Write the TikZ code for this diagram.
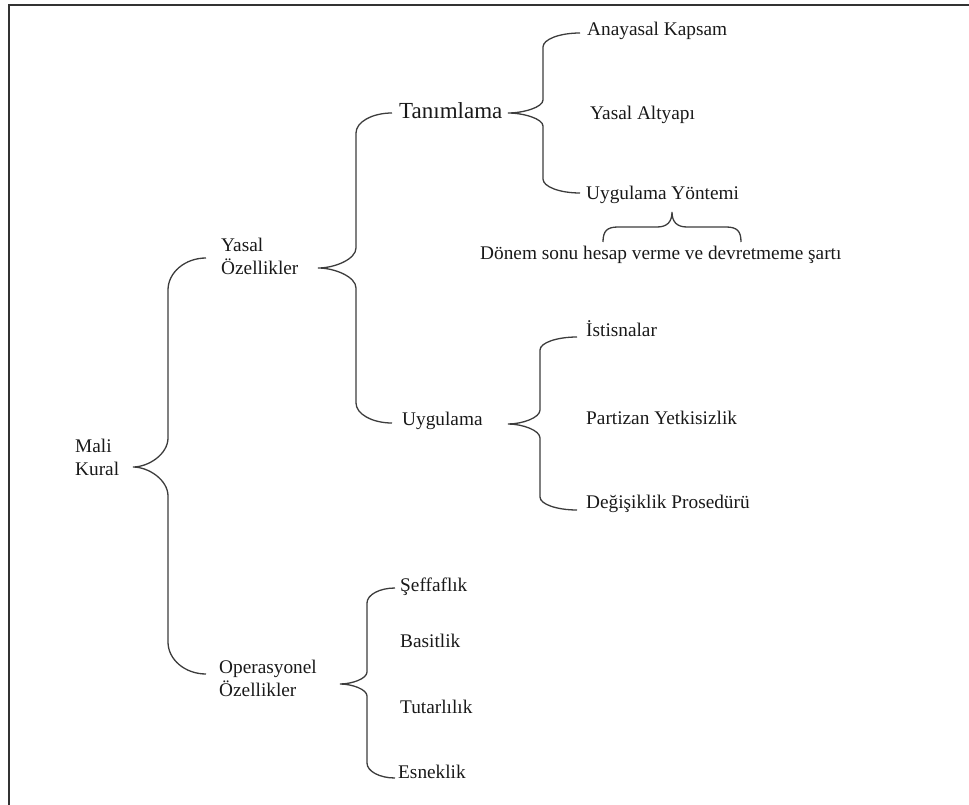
\documentclass[tikz,border=0pt]{standalone}
\usepackage{fontspec}
\setmainfont{Liberation Serif}
\definecolor{bcol}{RGB}{60,60,60}
\definecolor{fcol}{RGB}{50,50,50}
\definecolor{tcol}{RGB}{25,25,25}
\newcommand{\cbrace}[8]{%
\draw[bline] (#4,#5) .. controls ({#3+0.45*(#4-#3)},#5) and (#3,{#5+0.45*#7}) .. (#3,{#5+#7})
 -- (#3,{#2-#8}) .. controls (#3,{#2-0.45*#8}) and ({#1+0.45*(#3-#1)},#2) .. (#1,#2)
 .. controls ({#1+0.45*(#3-#1)},#2) and (#3,{#2+0.45*#8}) .. (#3,{#2+#8})
 -- (#3,{#6-#7}) .. controls (#3,{#6-0.45*#7}) and ({#3+0.45*(#4-#3)},#6) .. (#4,#6);}
\begin{document}
\begin{tikzpicture}[x=1pt,y=-1pt,
  bline/.style={draw=bcol,line width=1.3pt},
  lbl/.style={anchor=base west,inner sep=0pt,text=tcol,font=\fontsize{19.3}{23}\selectfont,align=left},
  big/.style={lbl,font=\fontsize{23}{27}\selectfont}]
\useasboundingbox (0,0) rectangle (969,805);
% frame (top and left edges only)
\draw[draw=fcol,line width=2.2pt] (9,805) -- (9,5) -- (969,5);
% labels (multi-line nodes: base anchor is on the last line)
\node[lbl] (mali) at (75,475) {Mali\\Kural};
\node[lbl] (yasal) at (221,274) {Yasal\\Özellikler};
\node[lbl] (oper) at (219,696) {Operasyonel\\Özellikler};
\node[big] (tanim) at (399,119) {Tanımlama};
\node[lbl] (uyg) at (402,425) {Uygulama};
\node[lbl] (anay) at (587,36) {Anayasal Kapsam};
\node[lbl] (alty) at (590,120) {Yasal Altyapı};
\node[lbl] (yont) at (586,200) {Uygulama Yöntemi};
\node[lbl] (donem) at (480,259) {Dönem sonu hesap verme ve devretmeme şartı};
\node[lbl] (ist) at (586,336) {İstisnalar};
\node[lbl] (part) at (586,424) {Partizan Yetkisizlik};
\node[lbl] (degis) at (586,508) {Değişiklik Prosedürü};
\node[lbl] (seff) at (400,591) {Şeffaflık};
\node[lbl] (basit) at (400,647) {Basitlik};
\node[lbl] (tutar) at (400,713) {Tutarlılık};
\node[lbl] (esnek) at (398,778) {Esneklik};
% braces
\cbrace{133}{467}{168}{206}{258}{674}{32}{29}
\cbrace{318}{268}{356}{392}{113}{423}{20}{20}
\cbrace{508}{113}{543}{580}{33}{193}{14}{13}
\cbrace{508}{424}{540}{577}{337}{510}{13}{14}
\cbrace{340}{684}{367}{395}{588}{778}{15}{12}
% horizontal brace under Uygulama Yöntemi
\draw[bline] (603,242) .. controls (603,231) and (607,227) .. (618,227) -- (657,227)
  .. controls (667,227) and (672,222) .. (672,212)
  .. controls (672,222) and (677,227) .. (687,227) -- (726,227)
  .. controls (737,227) and (741,231) .. (741,242);
\end{tikzpicture}
\end{document}
